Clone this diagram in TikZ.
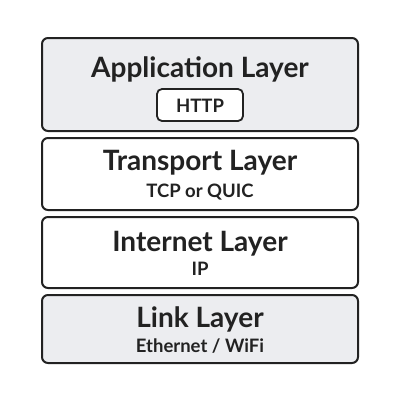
\documentclass[tikz,border=0pt]{standalone}
\usepackage{fontspec}
\setmainfont{Lato}
\usepackage{tikz}
\usetikzlibrary{positioning}

\definecolor{layerfill}{HTML}{ECEDF0}
\definecolor{layerline}{HTML}{222222}

\tikzset{
    layer/.style={draw=layerline, line width=2pt, rounded corners=6pt,
        minimum width=316pt, outer sep=0pt, inner sep=0pt},
    title/.style={anchor=base, font=\fontsize{28}{32}\selectfont\bfseries, text=layerline},
    sub/.style={anchor=base, font=\fontsize{18.5}{22}\selectfont\bfseries, text=layerline},
    proto/.style={draw=layerline, line width=1.8pt, rounded corners=5pt, fill=white,
        minimum width=86pt, minimum height=32pt}
}

\begin{document}
\begin{tikzpicture}[x=1pt, y=-1pt, node distance=7pt]
    \useasboundingbox (0,0) rectangle (400,400);

    % the four layers, top to bottom
    \node[layer, fill=layerfill, minimum height=93pt] (app) at (200,84.5) {};
    \node[layer, fill=white, minimum height=72pt] (trans) [below=of app] {};
    \node[layer, fill=white, minimum height=71pt] (inet) [below=of trans] {};
    \node[layer, fill=layerfill, minimum height=68pt] (link) [below=of inet] {};

    % names
    \node[title] (apptitle) at ([yshift=7.5pt]app.center) {Application Layer};
    \node[proto] (http) at ([yshift=-20.5pt]app.center) {};
    \node[sub] (httptext) at ([yshift=-7pt]http.center) {HTTP};

    \node[title] (transtitle) at ([yshift=4pt]trans.center) {Transport Layer};
    \node[sub] (transsub) at ([yshift=-23pt]trans.center) {TCP or QUIC};

    \node[title] (inettitle) at ([yshift=1.5pt]inet.center) {Internet Layer};
    \node[sub] (inetsub) at ([yshift=-22.5pt]inet.center) {IP};

    \node[title] (linktitle) at ([yshift=2pt]link.center) {Link Layer};
    \node[sub] (linksub) at ([yshift=-23pt]link.center) {Ethernet / WiFi};
\end{tikzpicture}
\end{document}
